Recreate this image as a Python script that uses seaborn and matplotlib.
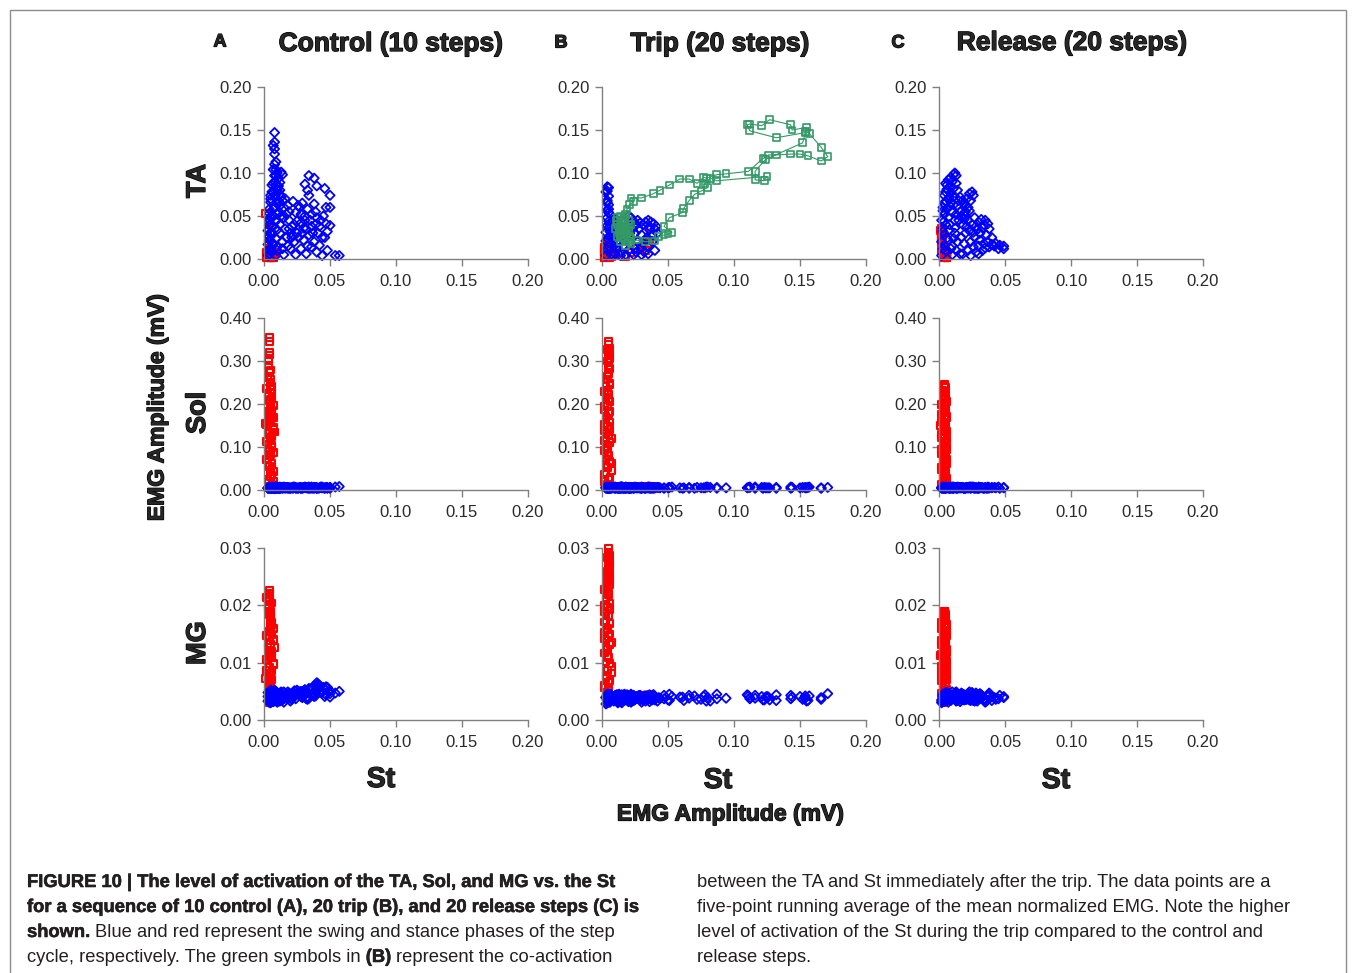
import matplotlib
matplotlib.use("Agg")
import matplotlib.pyplot as plt
import matplotlib.patches as mpatches
import matplotlib.patheffects as pe
from matplotlib import font_manager
import seaborn as sns

# ---------------------------------------------------------------------------
# Data.  x = St amplitude, shared by the TA/Sol/MG rows
# ---------------------------------------------------------------------------

# Control (A) - swing phase
st_swing_A = [
    0.003, 0.003, 0.004, 0.003, 0.004, 0.004, 0.005, 0.005, 0.006, 0.004,
    0.005, 0.005, 0.006, 0.006, 0.008, 0.008, 0.007, 0.008, 0.008, 0.009,
    0.007, 0.009, 0.008, 0.010, 0.011, 0.012, 0.013, 0.014, 0.012, 0.009,
    0.010, 0.008, 0.011, 0.013, 0.016, 0.018, 0.015, 0.019, 0.022, 0.024,
    0.021, 0.025, 0.027, 0.029, 0.031, 0.028, 0.033, 0.032, 0.035, 0.036,
    0.038, 0.039, 0.041, 0.043, 0.045, 0.047, 0.050, 0.047, 0.050, 0.034,
    0.038, 0.031, 0.033, 0.034, 0.040, 0.046, 0.050, 0.026, 0.010, 0.015,
    0.020, 0.024, 0.028, 0.032, 0.036, 0.040, 0.044, 0.048, 0.054, 0.057,
    0.012, 0.014, 0.017, 0.020, 0.023, 0.030, 0.034, 0.038, 0.042, 0.046,
    0.006, 0.007, 0.006, 0.007, 0.006, 0.007, 0.006, 0.007, 0.009, 0.010,
    0.009, 0.010, 0.009, 0.010, 0.009, 0.010, 0.011, 0.012, 0.013, 0.012,
    0.014, 0.016, 0.018, 0.019, 0.022, 0.025, 0.028, 0.030, 0.036, 0.040,
    0.004, 0.005, 0.004, 0.005, 0.004, 0.005, 0.004, 0.005, 0.006, 0.007,
    0.008, 0.009, 0.008, 0.011, 0.012, 0.014, 0.015, 0.017, 0.019, 0.021,
    0.023, 0.026, 0.029, 0.031, 0.033, 0.037, 0.039, 0.042, 0.044, 0.048,
]
ta_swing_A = [
    0.004, 0.017, 0.026, 0.033, 0.046, 0.053, 0.066, 0.074, 0.086, 0.010,
    0.021, 0.041, 0.051, 0.031, 0.147, 0.136, 0.132, 0.128, 0.122, 0.113,
    0.104, 0.097, 0.090, 0.100, 0.094, 0.089, 0.101, 0.098, 0.080, 0.075,
    0.065, 0.060, 0.055, 0.072, 0.070, 0.062, 0.048, 0.045, 0.067, 0.054,
    0.038, 0.030, 0.060, 0.065, 0.050, 0.042, 0.058, 0.035, 0.045, 0.052,
    0.064, 0.040, 0.030, 0.045, 0.050, 0.041, 0.039, 0.060, 0.060, 0.097,
    0.094, 0.087, 0.080, 0.074, 0.085, 0.082, 0.074, 0.025, 0.010, 0.005,
    0.012, 0.005, 0.012, 0.006, 0.014, 0.008, 0.004, 0.010, 0.004, 0.004,
    0.030, 0.020, 0.025, 0.030, 0.020, 0.022, 0.028, 0.020, 0.016, 0.025,
    0.008, 0.018, 0.028, 0.038, 0.048, 0.058, 0.068, 0.078, 0.086, 0.080,
    0.004, 0.014, 0.024, 0.034, 0.044, 0.052, 0.068, 0.062, 0.050, 0.040,
    0.012, 0.035, 0.015, 0.055, 0.028, 0.044, 0.052, 0.036, 0.038, 0.048,
    0.006, 0.013, 0.022, 0.031, 0.039, 0.048, 0.058, 0.070, 0.078, 0.088,
    0.097, 0.104, 0.110, 0.085, 0.075, 0.068, 0.060, 0.052, 0.035, 0.025,
    0.040, 0.062, 0.030, 0.045, 0.015, 0.030, 0.055, 0.038, 0.025, 0.032,
]
sol_swing_A = [
    0.004, 0.005, 0.006, 0.004, 0.005, 0.007, 0.005, 0.004, 0.006, 0.005,
    0.006, 0.004, 0.005, 0.007, 0.005, 0.004, 0.006, 0.005, 0.004, 0.006,
    0.005, 0.007, 0.004, 0.005, 0.006, 0.004, 0.005, 0.006, 0.007, 0.005,
    0.004, 0.006, 0.005, 0.005, 0.004, 0.006, 0.007, 0.005, 0.004, 0.006,
    0.005, 0.004, 0.006, 0.005, 0.007, 0.004, 0.005, 0.006, 0.004, 0.005,
    0.006, 0.005, 0.004, 0.007, 0.005, 0.006, 0.004, 0.005, 0.006, 0.005,
    0.004, 0.006, 0.005, 0.007, 0.004, 0.005, 0.006, 0.004, 0.005, 0.006,
    0.005, 0.004, 0.006, 0.005, 0.007, 0.004, 0.005, 0.006, 0.007, 0.008,
    0.004, 0.006, 0.005, 0.004, 0.006, 0.005, 0.004, 0.006, 0.005, 0.004,
    0.005, 0.004, 0.006, 0.005, 0.007, 0.004, 0.005, 0.006, 0.004, 0.005,
    0.006, 0.005, 0.004, 0.007, 0.005, 0.006, 0.004, 0.005, 0.006, 0.004,
    0.005, 0.006, 0.004, 0.005, 0.007, 0.005, 0.004, 0.006, 0.005, 0.006,
    0.005, 0.006, 0.004, 0.005, 0.007, 0.004, 0.006, 0.005, 0.004, 0.006,
    0.005, 0.007, 0.004, 0.005, 0.006, 0.004, 0.005, 0.006, 0.004, 0.005,
    0.007, 0.005, 0.004, 0.006, 0.005, 0.004, 0.006, 0.005, 0.007, 0.004,
]
mg_swing_A = [
    0.0033, 0.0041, 0.0036, 0.0048, 0.0031, 0.0044, 0.0038, 0.0052, 0.0035, 0.0046,
    0.0030, 0.0042, 0.0049, 0.0037, 0.0045, 0.0034, 0.0050, 0.0040, 0.0036, 0.0047,
    0.0032, 0.0043, 0.0051, 0.0038, 0.0044, 0.0035, 0.0049, 0.0041, 0.0033, 0.0046,
    0.0039, 0.0052, 0.0037, 0.0042, 0.0038, 0.0044, 0.0031, 0.0047, 0.0041, 0.0050,
    0.0036, 0.0045, 0.0049, 0.0039, 0.0052, 0.0043, 0.0048, 0.0037, 0.0054, 0.0046,
    0.0060, 0.0042, 0.0063, 0.0049, 0.0057, 0.0044, 0.0051, 0.0058, 0.0046, 0.0055,
    0.0041, 0.0049, 0.0036, 0.0047, 0.0065, 0.0053, 0.0040, 0.0045, 0.0034, 0.0040,
    0.0045, 0.0037, 0.0050, 0.0039, 0.0043, 0.0061, 0.0048, 0.0055, 0.0047, 0.0050,
    0.0042, 0.0036, 0.0040, 0.0033, 0.0046, 0.0051, 0.0038, 0.0044, 0.0056, 0.0041,
    0.0039, 0.0032, 0.0045, 0.0036, 0.0041, 0.0048, 0.0034, 0.0043, 0.0038, 0.0031,
    0.0046, 0.0037, 0.0042, 0.0035, 0.0050, 0.0040, 0.0033, 0.0044, 0.0039, 0.0047,
    0.0036, 0.0042, 0.0049, 0.0038, 0.0045, 0.0052, 0.0041, 0.0047, 0.0055, 0.0058,
    0.0034, 0.0040, 0.0031, 0.0045, 0.0037, 0.0042, 0.0033, 0.0048, 0.0039, 0.0044,
    0.0036, 0.0041, 0.0046, 0.0038, 0.0043, 0.0035, 0.0049, 0.0040, 0.0045, 0.0038,
    0.0051, 0.0047, 0.0042, 0.0053, 0.0039, 0.0056, 0.0048, 0.0060, 0.0052, 0.0057,
]

# Control (A) - stance phase
st_stance_A = [
    0.004, 0.004, 0.004, 0.004, 0.0035, 0.0035, 0.005, 0.004, 0.005, 0.0045,
    0.006, 0.005, 0.003, 0.006, 0.004, 0.007, 0.005, 0.003, 0.006, 0.004,
    0.005, 0.003, 0.007, 0.004, 0.006, 0.005, 0.003, 0.006, 0.004, 0.005,
    0.001, 0.008, 0.003, 0.006, 0.004, 0.007, 0.005, 0.003, 0.006, 0.004,
    0.002, 0.003, 0.005, 0.006, 0.007, 0.002, 0.003, 0.005, 0.006, 0.007,
    0.002, 0.003, 0.005, 0.006, 0.007, 0.002, 0.003, 0.005, 0.006, 0.007,
    0.003, 0.005, 0.006, 0.004, 0.005,
]
ta_stance_A = [
    0.004, 0.006, 0.003, 0.008, 0.005, 0.002, 0.007, 0.004, 0.009, 0.003,
    0.006, 0.002, 0.012, 0.005, 0.003, 0.008, 0.004, 0.018, 0.006, 0.002,
    0.005, 0.025, 0.004, 0.007, 0.003, 0.006, 0.034, 0.002, 0.005, 0.004,
    0.053, 0.006, 0.043, 0.003, 0.008, 0.005, 0.002, 0.010, 0.004, 0.006,
    0.002, 0.004, 0.003, 0.006, 0.002, 0.005, 0.003, 0.004, 0.007, 0.002,
    0.006, 0.003, 0.005, 0.002, 0.004, 0.008, 0.003, 0.005, 0.002, 0.006,
    0.004, 0.003, 0.005, 0.002, 0.004,
]
sol_stance_A = [
    0.355, 0.346, 0.321, 0.314, 0.301, 0.289, 0.279, 0.276, 0.257, 0.251,
    0.241, 0.233, 0.224, 0.216, 0.207, 0.197, 0.189, 0.182, 0.171, 0.166,
    0.157, 0.149, 0.141, 0.131, 0.124, 0.117, 0.106, 0.098, 0.091, 0.083,
    0.155, 0.135, 0.073, 0.061, 0.054, 0.043, 0.031, 0.024, 0.013, 0.007,
    0.236, 0.218, 0.203, 0.186, 0.169, 0.153, 0.137, 0.121, 0.104, 0.088,
    0.071, 0.057, 0.046, 0.035, 0.020, 0.112, 0.095, 0.162, 0.228, 0.145,
    0.262, 0.210, 0.128, 0.080, 0.178,
]
mg_stance_A = [
    0.0226, 0.0220, 0.0212, 0.0207, 0.0201, 0.0194, 0.0189, 0.0183, 0.0178, 0.0171,
    0.0166, 0.0162, 0.0154, 0.0149, 0.0143, 0.0138, 0.0131, 0.0127, 0.0119, 0.0114,
    0.0108, 0.0103, 0.0097, 0.0092, 0.0087, 0.0081, 0.0076, 0.0071, 0.0066, 0.0061,
    0.0072, 0.0126, 0.0057, 0.0052, 0.0047, 0.0043, 0.0039, 0.0035, 0.0032, 0.0030,
    0.0213, 0.0198, 0.0186, 0.0170, 0.0159, 0.0147, 0.0134, 0.0122, 0.0110, 0.0098,
    0.0086, 0.0074, 0.0062, 0.0050, 0.0040, 0.0106, 0.0091, 0.0156, 0.0204, 0.0140,
    0.0218, 0.0180, 0.0118, 0.0079, 0.0164,
]

# Trip (B) - swing phase
st_swing_B = [
    0.004, 0.004, 0.005, 0.004, 0.005, 0.004, 0.005, 0.004, 0.005, 0.004,
    0.005, 0.003, 0.004, 0.003, 0.005, 0.004, 0.003, 0.006, 0.006, 0.007,
    0.008, 0.009, 0.010, 0.011, 0.012, 0.010, 0.014, 0.016, 0.018, 0.020,
    0.022, 0.020, 0.024, 0.026, 0.025, 0.028, 0.030, 0.027, 0.029, 0.032,
    0.031, 0.033, 0.035, 0.037, 0.039, 0.041, 0.036, 0.034, 0.038, 0.035,
    0.024, 0.022, 0.018, 0.015, 0.013, 0.016, 0.008, 0.012, 0.030, 0.040,
    0.003, 0.005, 0.004, 0.006, 0.005, 0.006, 0.007, 0.006, 0.007, 0.009,
    0.010, 0.011, 0.012, 0.014, 0.017, 0.019, 0.021, 0.023, 0.025, 0.027,
    0.029, 0.031, 0.033, 0.036, 0.038, 0.040, 0.042, 0.026, 0.014, 0.035,
]
ta_swing_B = [
    0.084, 0.079, 0.073, 0.068, 0.063, 0.057, 0.054, 0.048, 0.044, 0.039,
    0.036, 0.031, 0.024, 0.021, 0.014, 0.011, 0.004, 0.040, 0.025, 0.012,
    0.045, 0.035, 0.028, 0.020, 0.012, 0.006, 0.008, 0.015, 0.005, 0.010,
    0.048, 0.050, 0.044, 0.040, 0.030, 0.035, 0.028, 0.020, 0.012, 0.008,
    0.040, 0.043, 0.045, 0.043, 0.041, 0.038, 0.034, 0.025, 0.020, 0.015,
    0.005, 0.018, 0.025, 0.030, 0.040, 0.044, 0.020, 0.030, 0.005, 0.010,
    0.078, 0.083, 0.066, 0.052, 0.058, 0.032, 0.028, 0.018, 0.005, 0.015,
    0.040, 0.046, 0.020, 0.025, 0.035, 0.040, 0.030, 0.035, 0.012, 0.045,
    0.042, 0.018, 0.022, 0.038, 0.028, 0.035, 0.030, 0.008, 0.004, 0.006,
]
sol_swing_B = [
    0.005, 0.004, 0.006, 0.005, 0.004, 0.006, 0.005, 0.007, 0.004, 0.005,
    0.006, 0.004, 0.005, 0.007, 0.005, 0.004, 0.006, 0.005, 0.004, 0.006,
    0.005, 0.007, 0.004, 0.006, 0.005, 0.004, 0.006, 0.005, 0.007, 0.004,
    0.005, 0.006, 0.004, 0.005, 0.007, 0.005, 0.004, 0.006, 0.005, 0.004,
    0.006, 0.005, 0.007, 0.004, 0.005, 0.006, 0.004, 0.005, 0.006, 0.005,
    0.004, 0.006, 0.005, 0.007, 0.004, 0.005, 0.006, 0.005, 0.004, 0.006,
    0.005, 0.004, 0.006, 0.005, 0.007, 0.004, 0.005, 0.006, 0.004, 0.005,
    0.006, 0.005, 0.004, 0.007, 0.005, 0.006, 0.004, 0.005, 0.006, 0.005,
    0.004, 0.006, 0.005, 0.007, 0.004, 0.005, 0.006, 0.005, 0.004, 0.006,
]
mg_swing_B = [
    0.0036, 0.0041, 0.0032, 0.0044, 0.0038, 0.0030, 0.0042, 0.0035, 0.0039, 0.0045,
    0.0033, 0.0040, 0.0037, 0.0028, 0.0043, 0.0034, 0.0039, 0.0031, 0.0046, 0.0036,
    0.0041, 0.0033, 0.0038, 0.0044, 0.0030, 0.0037, 0.0042, 0.0035, 0.0040, 0.0032,
    0.0045, 0.0038, 0.0034, 0.0041, 0.0036, 0.0043, 0.0031, 0.0039, 0.0035, 0.0042,
    0.0037, 0.0033, 0.0040, 0.0036, 0.0044, 0.0038, 0.0032, 0.0041, 0.0035, 0.0039,
    0.0043, 0.0034, 0.0037, 0.0030, 0.0042, 0.0036, 0.0040, 0.0033, 0.0038, 0.0035,
    0.0039, 0.0034, 0.0042, 0.0036, 0.0031, 0.0044, 0.0038, 0.0033, 0.0041, 0.0037,
    0.0043, 0.0035, 0.0040, 0.0032, 0.0045, 0.0038, 0.0034, 0.0042, 0.0036, 0.0040,
    0.0043, 0.0035, 0.0039, 0.0044, 0.0037, 0.0041, 0.0033, 0.0038, 0.0042, 0.0036,
]

# Trip (B) - TA/St co-activation right after the trip (green, in time order)
st_trip_B = [
    0.012, 0.014, 0.016, 0.012, 0.010, 0.013, 0.015, 0.018, 0.020, 0.022,
    0.019, 0.016, 0.014, 0.017, 0.020, 0.018,
    0.019, 0.021, 0.024, 0.022, 0.030, 0.039, 0.044, 0.051, 0.059, 0.066,
    0.072, 0.077, 0.079, 0.087, 0.094, 0.111, 0.122, 0.126, 0.132, 0.143,
    0.150, 0.156, 0.166, 0.171, 0.166, 0.157, 0.154, 0.155, 0.144, 0.143,
    0.127, 0.121, 0.112, 0.110, 0.112, 0.132, 0.154, 0.152, 0.124, 0.116,
    0.116, 0.123, 0.125, 0.087, 0.082, 0.078, 0.080, 0.075, 0.070, 0.066,
    0.062, 0.061, 0.051, 0.047, 0.053, 0.050, 0.047, 0.043, 0.040, 0.033,
    0.026, 0.022, 0.018, 0.014, 0.012, 0.015, 0.018, 0.020, 0.016,
    0.013, 0.017, 0.021, 0.019, 0.015, 0.011, 0.014, 0.020, 0.017, 0.022,
]
ta_trip_B = [
    0.048, 0.050, 0.046, 0.040, 0.035, 0.030, 0.025, 0.022, 0.020, 0.024,
    0.030, 0.034, 0.038, 0.042, 0.045, 0.052,
    0.058, 0.063, 0.067, 0.071, 0.071, 0.076, 0.080, 0.086, 0.093, 0.093,
    0.088, 0.095, 0.094, 0.098, 0.099, 0.102, 0.117, 0.121, 0.121, 0.122,
    0.122, 0.120, 0.114, 0.119, 0.130, 0.146, 0.148, 0.153, 0.150, 0.156,
    0.162, 0.155, 0.157, 0.156, 0.149, 0.141, 0.147, 0.135, 0.116, 0.102,
    0.092, 0.091, 0.096, 0.091, 0.094, 0.088, 0.083, 0.079, 0.075, 0.068,
    0.059, 0.054, 0.048, 0.038, 0.031, 0.029, 0.028, 0.026, 0.021, 0.020,
    0.022, 0.018, 0.016, 0.020, 0.026, 0.032, 0.036, 0.040, 0.041,
    0.034, 0.028, 0.026, 0.036, 0.043, 0.045, 0.028, 0.033, 0.047, 0.040,
]
sol_trip_B = [
    0.005, 0.006, 0.004, 0.005, 0.007, 0.005, 0.004, 0.006, 0.005, 0.004,
    0.006, 0.005, 0.007, 0.004, 0.005, 0.006,
    0.005, 0.004, 0.006, 0.005, 0.007, 0.004, 0.005, 0.006, 0.005, 0.004,
    0.006, 0.005, 0.007, 0.006, 0.005, 0.006, 0.004, 0.005, 0.006, 0.007,
    0.005, 0.006, 0.004, 0.006, 0.005, 0.007, 0.006, 0.005, 0.006, 0.004,
    0.005, 0.006, 0.007, 0.005, 0.006, 0.004, 0.005, 0.006, 0.005, 0.007,
    0.004, 0.006, 0.005, 0.004, 0.006, 0.005, 0.007, 0.005, 0.004, 0.006,
    0.005, 0.004, 0.006, 0.005, 0.007, 0.005, 0.004, 0.006, 0.005, 0.004,
    0.006, 0.005, 0.004, 0.006, 0.005, 0.007, 0.004, 0.005, 0.006,
    0.005, 0.006, 0.004, 0.005, 0.007, 0.005, 0.004, 0.006, 0.005, 0.006,
]
mg_trip_B = [
    0.0040, 0.0036, 0.0043, 0.0033, 0.0039, 0.0045, 0.0035, 0.0041, 0.0037, 0.0031,
    0.0044, 0.0038, 0.0034, 0.0042, 0.0036, 0.0040,
    0.0039, 0.0043, 0.0035, 0.0041, 0.0037, 0.0044, 0.0038, 0.0034, 0.0040, 0.0043,
    0.0036, 0.0041, 0.0033, 0.0045, 0.0038, 0.0042, 0.0035, 0.0040, 0.0044, 0.0037,
    0.0041, 0.0034, 0.0039, 0.0046, 0.0036, 0.0042, 0.0038, 0.0033, 0.0040, 0.0043,
    0.0035, 0.0041, 0.0037, 0.0044, 0.0039, 0.0034, 0.0042, 0.0036, 0.0040, 0.0038,
    0.0043, 0.0035, 0.0041, 0.0037, 0.0033, 0.0044, 0.0039, 0.0036, 0.0042, 0.0038,
    0.0034, 0.0040, 0.0045, 0.0037, 0.0041, 0.0035, 0.0043, 0.0039, 0.0036, 0.0042,
    0.0038, 0.0033, 0.0041, 0.0036, 0.0044, 0.0039, 0.0035, 0.0040, 0.0037,
    0.0038, 0.0042, 0.0035, 0.0040, 0.0044, 0.0037, 0.0041, 0.0034, 0.0039, 0.0043,
]

# Trip (B) - stance phase
st_stance_B = [
    0.005, 0.005, 0.006, 0.005, 0.006, 0.005, 0.006, 0.005, 0.004, 0.006,
    0.003, 0.004, 0.005, 0.003, 0.006, 0.004, 0.002, 0.005, 0.003, 0.006,
    0.004, 0.002, 0.005, 0.003, 0.006, 0.004, 0.002, 0.005, 0.003, 0.007,
    0.004, 0.003, 0.006, 0.002, 0.005,
    0.010, 0.014, 0.018, 0.022, 0.026, 0.030, 0.033, 0.035, 0.037, 0.036,
    0.004, 0.006, 0.005, 0.004, 0.006, 0.002, 0.003, 0.002, 0.003, 0.002,
    0.003, 0.002, 0.003, 0.004, 0.006, 0.007, 0.005, 0.004, 0.006, 0.007,
    0.003, 0.002, 0.005, 0.006, 0.004,
]
ta_stance_B = [
    0.003, 0.006, 0.010, 0.004, 0.008, 0.012, 0.005, 0.002, 0.009, 0.015,
    0.004, 0.007, 0.011, 0.003, 0.006, 0.018, 0.002, 0.008, 0.005, 0.013,
    0.004, 0.010, 0.006, 0.003, 0.009, 0.016, 0.002, 0.007, 0.020, 0.005,
    0.003, 0.012, 0.008, 0.004, 0.006,
    0.004, 0.006, 0.003, 0.008, 0.012, 0.015, 0.010, 0.018, 0.036, 0.022,
    0.005, 0.003, 0.008, 0.004, 0.006, 0.012, 0.004, 0.009, 0.003, 0.014,
    0.006, 0.010, 0.004, 0.007, 0.003, 0.005, 0.011, 0.004, 0.006, 0.003,
    0.017, 0.008, 0.005, 0.002, 0.006,
]
sol_stance_B = [
    0.345, 0.338, 0.330, 0.318, 0.305, 0.296, 0.282, 0.270, 0.258, 0.249,
    0.240, 0.232, 0.223, 0.214, 0.205, 0.196, 0.186, 0.178, 0.167, 0.158,
    0.148, 0.139, 0.128, 0.121, 0.110, 0.101, 0.092, 0.081, 0.072, 0.063,
    0.052, 0.041, 0.030, 0.019, 0.008,
    0.007, 0.008, 0.006, 0.009, 0.007, 0.008, 0.006, 0.009, 0.008, 0.007,
    0.326, 0.312, 0.290, 0.265, 0.244, 0.230, 0.212, 0.194, 0.172, 0.153,
    0.135, 0.116, 0.097, 0.086, 0.067, 0.046, 0.025, 0.014, 0.182, 0.120,
    0.060, 0.036, 0.210, 0.140, 0.300,
]
mg_stance_B = [
    0.0300, 0.0293, 0.0287, 0.0279, 0.0270, 0.0262, 0.0255, 0.0247, 0.0240, 0.0236,
    0.0231, 0.0224, 0.0218, 0.0210, 0.0203, 0.0197, 0.0189, 0.0182, 0.0174, 0.0168,
    0.0160, 0.0153, 0.0146, 0.0138, 0.0131, 0.0123, 0.0117, 0.0109, 0.0101, 0.0094,
    0.0086, 0.0078, 0.0069, 0.0060, 0.0051,
    0.0042, 0.0038, 0.0044, 0.0036, 0.0041, 0.0039, 0.0043, 0.0037, 0.0045, 0.0040,
    0.0283, 0.0275, 0.0266, 0.0251, 0.0243, 0.0228, 0.0214, 0.0200, 0.0186, 0.0171,
    0.0157, 0.0142, 0.0127, 0.0113, 0.0098, 0.0082, 0.0065, 0.0047, 0.0193, 0.0135,
    0.0073, 0.0056, 0.0221, 0.0150, 0.0259,
]

# Release (C) - swing phase
st_swing_C = [
    0.002, 0.003, 0.002, 0.004, 0.003, 0.002, 0.004, 0.003, 0.005, 0.004,
    0.006, 0.005, 0.006, 0.005, 0.006, 0.005,
    0.007, 0.009, 0.011, 0.012, 0.013, 0.010, 0.008, 0.009, 0.007, 0.008,
    0.010, 0.011, 0.013, 0.014,
    0.016, 0.018, 0.019, 0.021, 0.023, 0.025, 0.026, 0.024, 0.022, 0.020,
    0.030, 0.032, 0.035, 0.037, 0.038, 0.034, 0.028, 0.031, 0.036,
    0.040, 0.043, 0.046, 0.049, 0.049, 0.045, 0.040, 0.037,
    0.015, 0.018, 0.020, 0.022, 0.025, 0.020, 0.017, 0.014, 0.010, 0.012,
    0.024, 0.027, 0.030, 0.033, 0.035, 0.028, 0.022, 0.016, 0.010, 0.008,
    0.012, 0.016, 0.011,
    0.004, 0.003, 0.004, 0.003, 0.004, 0.005, 0.006, 0.007, 0.008, 0.009,
    0.007, 0.008, 0.007, 0.009, 0.011, 0.012, 0.013, 0.014, 0.015, 0.017,
    0.019, 0.021, 0.023, 0.026, 0.029, 0.033, 0.031, 0.034, 0.038, 0.042,
    0.026, 0.019, 0.013, 0.018, 0.024, 0.030, 0.020, 0.023, 0.027, 0.011,
]
ta_swing_C = [
    0.004, 0.012, 0.020, 0.028, 0.036, 0.045, 0.052, 0.060, 0.067, 0.074,
    0.081, 0.088, 0.058, 0.040, 0.024, 0.010,
    0.092, 0.095, 0.098, 0.100, 0.097, 0.090, 0.084, 0.077, 0.070, 0.062,
    0.055, 0.082, 0.088, 0.080,
    0.072, 0.068, 0.064, 0.070, 0.076, 0.078, 0.074, 0.068, 0.060, 0.055,
    0.043, 0.046, 0.045, 0.041, 0.035, 0.040, 0.038, 0.030, 0.028,
    0.025, 0.018, 0.016, 0.015, 0.012, 0.012, 0.017, 0.020,
    0.045, 0.040, 0.050, 0.045, 0.040, 0.030, 0.025, 0.020, 0.015, 0.030,
    0.020, 0.025, 0.015, 0.010, 0.013, 0.008, 0.010, 0.006, 0.005, 0.040,
    0.045, 0.055, 0.063,
    0.016, 0.032, 0.044, 0.056, 0.064, 0.078, 0.086, 0.080, 0.072, 0.066,
    0.048, 0.034, 0.022, 0.012, 0.024, 0.036, 0.052, 0.062, 0.068, 0.050,
    0.046, 0.038, 0.033, 0.031, 0.034, 0.036, 0.022, 0.018, 0.014, 0.015,
    0.014, 0.018, 0.010, 0.006, 0.004, 0.006, 0.062, 0.056, 0.048, 0.072,
]
sol_swing_C = [
    0.005, 0.004, 0.006, 0.005, 0.007, 0.004, 0.005, 0.006, 0.004, 0.005,
    0.006, 0.007, 0.005, 0.004, 0.006, 0.005,
    0.006, 0.005, 0.004, 0.006, 0.005, 0.007, 0.004, 0.005, 0.006, 0.005,
    0.004, 0.006, 0.005, 0.007,
    0.005, 0.006, 0.004, 0.005, 0.007, 0.006, 0.005, 0.004, 0.006, 0.005,
    0.004, 0.006, 0.005, 0.007, 0.005, 0.004, 0.006, 0.005, 0.004,
    0.006, 0.005, 0.004, 0.006, 0.005, 0.007, 0.005, 0.004,
    0.005, 0.006, 0.004, 0.005, 0.007, 0.005, 0.006, 0.004, 0.005, 0.006,
    0.005, 0.004, 0.007, 0.005, 0.006, 0.004, 0.005, 0.006, 0.005, 0.004,
    0.006, 0.005, 0.007,
    0.005, 0.004, 0.006, 0.005, 0.004, 0.007, 0.005, 0.006, 0.004, 0.005,
    0.006, 0.004, 0.005, 0.007, 0.005, 0.006, 0.004, 0.005, 0.006, 0.005,
    0.004, 0.006, 0.005, 0.007, 0.004, 0.005, 0.006, 0.004, 0.005, 0.006,
    0.005, 0.004, 0.006, 0.005, 0.007, 0.004, 0.005, 0.006, 0.005, 0.004,
]
mg_swing_C = [
    0.0035, 0.0041, 0.0032, 0.0044, 0.0038, 0.0030, 0.0046, 0.0036, 0.0040, 0.0033,
    0.0043, 0.0037, 0.0048, 0.0034, 0.0042, 0.0039,
    0.0044, 0.0036, 0.0041, 0.0047, 0.0033, 0.0039, 0.0045, 0.0037, 0.0042, 0.0035,
    0.0049, 0.0040, 0.0034, 0.0043,
    0.0038, 0.0045, 0.0041, 0.0036, 0.0049, 0.0043, 0.0039, 0.0034, 0.0046, 0.0040,
    0.0037, 0.0044, 0.0031, 0.0041, 0.0047, 0.0035, 0.0042, 0.0038, 0.0033,
    0.0040, 0.0036, 0.0043, 0.0039, 0.0041, 0.0037, 0.0034, 0.0042,
    0.0039, 0.0045, 0.0036, 0.0042, 0.0048, 0.0037, 0.0043, 0.0034, 0.0040, 0.0046,
    0.0038, 0.0033, 0.0044, 0.0041, 0.0035, 0.0047, 0.0039, 0.0036, 0.0043, 0.0040,
    0.0045, 0.0032, 0.0038,
    0.0036, 0.0042, 0.0033, 0.0045, 0.0039, 0.0048, 0.0035, 0.0041, 0.0037, 0.0044,
    0.0031, 0.0046, 0.0040, 0.0034, 0.0043, 0.0038, 0.0049, 0.0036, 0.0042, 0.0047,
    0.0035, 0.0041, 0.0038, 0.0045, 0.0033, 0.0040, 0.0046, 0.0037, 0.0043, 0.0039,
    0.0034, 0.0044, 0.0048, 0.0036, 0.0041, 0.0038, 0.0042, 0.0035, 0.0045, 0.0039,
]

# Release (C) - stance phase
st_stance_C = [
    0.004, 0.005, 0.004, 0.005, 0.003, 0.006, 0.004, 0.005, 0.003, 0.006,
    0.004, 0.002, 0.005, 0.003, 0.006, 0.004, 0.002, 0.005, 0.003, 0.006,
    0.004, 0.002, 0.005, 0.003, 0.006, 0.004, 0.002, 0.005, 0.003, 0.006,
    0.001, 0.004, 0.002, 0.005, 0.003, 0.006, 0.002, 0.004, 0.003, 0.005,
    0.003, 0.005, 0.002, 0.004, 0.006, 0.003, 0.005, 0.002, 0.004, 0.006,
    0.003, 0.005, 0.002, 0.004, 0.006, 0.003, 0.005, 0.002, 0.004, 0.006,
    0.003, 0.005, 0.004, 0.002, 0.006,
]
ta_stance_C = [
    0.003, 0.005, 0.002, 0.007, 0.004, 0.006, 0.003, 0.008, 0.005, 0.002,
    0.004, 0.010, 0.006, 0.015, 0.003, 0.005, 0.020, 0.004, 0.025, 0.006,
    0.003, 0.030, 0.005, 0.012, 0.004, 0.002, 0.035, 0.006, 0.008, 0.003,
    0.033, 0.004, 0.018, 0.005, 0.010, 0.003, 0.026, 0.006, 0.014, 0.002,
    0.004, 0.002, 0.022, 0.005, 0.003, 0.011, 0.006, 0.028, 0.004, 0.002,
    0.016, 0.005, 0.031, 0.003, 0.006, 0.008, 0.004, 0.019, 0.005, 0.003,
    0.013, 0.006, 0.004, 0.024, 0.002,
]
sol_stance_C = [
    0.245, 0.238, 0.226, 0.219, 0.211, 0.205, 0.196, 0.188, 0.181, 0.172,
    0.166, 0.158, 0.150, 0.143, 0.136, 0.128, 0.121, 0.113, 0.106, 0.098,
    0.091, 0.084, 0.077, 0.069, 0.062, 0.055, 0.048, 0.041, 0.034, 0.027,
    0.150, 0.020, 0.014, 0.009, 0.006, 0.012, 0.095, 0.060, 0.030, 0.180,
    0.232, 0.214, 0.199, 0.184, 0.169, 0.154, 0.139, 0.124, 0.110, 0.095,
    0.081, 0.066, 0.052, 0.038, 0.024, 0.012, 0.200, 0.175, 0.146, 0.118,
    0.088, 0.058, 0.240, 0.130, 0.072,
]
mg_stance_C = [
    0.0190, 0.0185, 0.0182, 0.0175, 0.0173, 0.0166, 0.0163, 0.0157, 0.0154, 0.0147,
    0.0144, 0.0139, 0.0133, 0.0130, 0.0124, 0.0121, 0.0114, 0.0111, 0.0105, 0.0102,
    0.0096, 0.0093, 0.0086, 0.0083, 0.0079, 0.0072, 0.0069, 0.0063, 0.0060, 0.0054,
    0.0112, 0.0050, 0.0046, 0.0041, 0.0037, 0.0033, 0.0080, 0.0045, 0.0031, 0.0140,
    0.0187, 0.0179, 0.0170, 0.0164, 0.0156, 0.0149, 0.0141, 0.0134, 0.0127, 0.0117,
    0.0108, 0.0099, 0.0090, 0.0081, 0.0071, 0.0062, 0.0174, 0.0160, 0.0136, 0.0122,
    0.0103, 0.0085, 0.0189, 0.0131, 0.0094,
]

col_letters = ["A", "B", "C"]
col_titles = ["Control (10 steps)", "Trip (20 steps)", "Release (20 steps)"]
row_labels = ["TA", "Sol", "MG"]
row_yticks = [[0.0, 0.05, 0.10, 0.15, 0.20],
              [0.0, 0.10, 0.20, 0.30, 0.40],
              [0.0, 0.01, 0.02, 0.03]]
x_ticks = [0.0, 0.05, 0.10, 0.15, 0.20]

caption_left = [
    [("FIGURE 10 | The level of activation of the TA, Sol, and MG vs. the St", "bold")],
    [("for a sequence of 10 control (A), 20 trip (B), and 20 release steps (C) is", "bold")],
    [("shown.", "bold"), (" Blue and red represent the swing and stance phases of the step", "normal")],
    [("cycle, respectively. The green symbols in ", "normal"), ("(B)", "bold"),
     (" represent the co-activation", "normal")],
]
caption_right = [
    [("between the TA and St immediately after the trip. The data points are a", "normal")],
    [("five-point running average of the mean normalized EMG. Note the higher", "normal")],
    [("level of activation of the St during the trip compared to the control and", "normal")],
    [("release steps.", "normal")],
]

# ---------------------------------------------------------------------------
# Style
# ---------------------------------------------------------------------------
sns.set_style("ticks")
plt.rcParams["font.family"] = ["Liberation Sans", "DejaVu Sans"]
plt.rcParams["axes.edgecolor"] = "#808080"
plt.rcParams["axes.linewidth"] = 1.0

BLUE = "#0000FF"
RED = "#FF0000"
GREEN = "#339966"
HEAVY = [pe.withStroke(linewidth=0.9, foreground="black")]

W, H = 1355, 973
fig = plt.figure(figsize=(W / 100, H / 100), dpi=100)
fig.patch.set_facecolor("white")


def fx(px):
    return px / W


def fy(py):
    return 1 - py / H


# figure frame
fig.patches.append(mpatches.Rectangle((fx(10), fy(990)), fx(1346) - fx(10), fy(10) - fy(990),
                                      transform=fig.transFigure, fill=False,
                                      edgecolor="#8c8c8c", linewidth=1.0))

col_x0 = [264, 602, 939]
row_y0 = [87, 318, 548]
AX_W, AX_H = 264, 172

columns = [
    dict(st_sw=st_swing_A, st_stc=st_stance_A,
         rows=[(ta_swing_A, ta_stance_A), (sol_swing_A, sol_stance_A), (mg_swing_A, mg_stance_A)]),
    dict(st_sw=st_swing_B, st_stc=st_stance_B,
         rows=[(ta_swing_B, ta_stance_B), (sol_swing_B, sol_stance_B), (mg_swing_B, mg_stance_B)]),
    dict(st_sw=st_swing_C, st_stc=st_stance_C,
         rows=[(ta_swing_C, ta_stance_C), (sol_swing_C, sol_stance_C), (mg_swing_C, mg_stance_C)]),
]
trip_rows = [ta_trip_B, sol_trip_B, mg_trip_B]

red_kw = dict(marker="s", s=24, facecolor="none", linewidth=1.5, clip_on=False, legend=False)
sq_kw = dict(marker="s", s=24, facecolor="none", linewidth=1.2, clip_on=False, legend=False)
dm_kw = dict(marker="D", s=22, facecolor="none", linewidth=1.3, clip_on=False, legend=False)

for c, col in enumerate(columns):
    for r in range(3):
        ax = fig.add_axes([fx(col_x0[c]), fy(row_y0[r] + AX_H), fx(AX_W), AX_H / H])
        y_sw, y_stc = col["rows"][r]

        sns.scatterplot(x=col["st_stc"], y=y_stc, edgecolor=RED, ax=ax, **red_kw)
        sns.scatterplot(x=col["st_sw"], y=y_sw, edgecolor=BLUE, ax=ax, **dm_kw)

        if c == 1:
            if r == 0:
                sns.lineplot(x=st_trip_B, y=ta_trip_B, sort=False, estimator=None,
                             color=GREEN, linewidth=0.8, ax=ax, legend=False)
                sns.scatterplot(x=st_trip_B, y=ta_trip_B, edgecolor=GREEN, ax=ax, **sq_kw)
            else:
                sns.scatterplot(x=st_trip_B, y=trip_rows[r], edgecolor=BLUE, ax=ax, **dm_kw)

        yt = row_yticks[r]
        ax.set_xlim(0, 0.20)
        ax.set_ylim(0, yt[-1])
        ax.set_xticks(x_ticks)
        ax.set_yticks(yt)
        ax.set_xticklabels([f"{v:.2f}" for v in x_ticks])
        ax.set_yticklabels([f"{v:.2f}" for v in yt])
        ax.set_xlabel("")
        ax.set_ylabel("")
        ax.tick_params(axis="both", direction="out", length=5, width=1,
                       color="#808080", labelcolor="#2a2a2a", labelsize=12)
        ax.tick_params(axis="x", pad=6)
        ax.tick_params(axis="y", pad=4)
        sns.despine(ax=ax)
        ax.patch.set_alpha(0)

# panel letters and column titles
letter_pos = [(220, 42), (561, 43), (898, 43)]
title_pos = [(391, 44), (720, 44), (1072, 43)]
for i in range(3):
    fig.text(fx(letter_pos[i][0]), fy(letter_pos[i][1]), col_letters[i], fontsize=13,
             fontweight="bold", ha="center", va="center", path_effects=HEAVY)
    fig.text(fx(title_pos[i][0]), fy(title_pos[i][1]), col_titles[i], fontsize=19,
             fontweight="bold", ha="center", va="center", path_effects=HEAVY)

# row labels
row_lab_y = [181, 413, 643]
for r in range(3):
    fig.text(fx(198), fy(row_lab_y[r]), row_labels[r], fontsize=19.5, fontweight="bold",
             rotation=90, ha="center", va="center", path_effects=HEAVY)

fig.text(fx(157), fy(408), "EMG Amplitude (mV)", fontsize=16.5, fontweight="bold",
         rotation=90, ha="center", va="center", path_effects=HEAVY)

for xp, yp in [(381, 780), (718, 781), (1056, 781)]:
    fig.text(fx(xp), fy(yp), "St", fontsize=20.5, fontweight="bold", ha="center",
             va="center", path_effects=HEAVY)
fig.text(fx(730), fy(814), "EMG Amplitude (mV)", fontsize=16.5, fontweight="bold",
         ha="center", va="center", path_effects=HEAVY)

# ---------------------------------------------------------------------------
# Caption (two columns, mixed bold / regular)
# ---------------------------------------------------------------------------
try:
    font_manager.findfont("Liberation Sans Narrow", fallback_to_default=False)
    cap_family = ["Liberation Sans Narrow", "Liberation Sans", "DejaVu Sans"]
    cap_size = 14.0
except Exception:
    cap_family = ["Liberation Sans", "DejaVu Sans"]
    cap_size = 12.5

renderer = fig.canvas.get_renderer()


def text_width(s, weight, size):
    t = fig.text(0, 0, s, fontsize=size, fontweight=weight, family=cap_family)
    w = t.get_window_extent(renderer).width
    t.remove()
    return w


# fit the caption size to the width of the first bold line (~590 px)
w0 = text_width(caption_left[0][0][0], "bold", cap_size)
cap_size = cap_size * 590 / w0
CAP_BOLD = [pe.withStroke(linewidth=0.4, foreground="#231f20")]


def draw_caption_line(x_px, y_px, segments):
    x = x_px
    for txt, weight in segments:
        sp = text_width("n n", weight, cap_size) - text_width("nn", weight, cap_size)
        if txt.startswith(" "):
            x += sp
        core = txt.strip()
        t = fig.text(fx(x), fy(y_px), core, fontsize=cap_size, fontweight=weight,
                     family=cap_family, ha="left", va="baseline", color="#231f20",
                     path_effects=CAP_BOLD if weight == "bold" else None)
        x += t.get_window_extent(renderer).width
        if txt.endswith(" "):
            x += sp


baselines = [887, 912, 937, 962]
for i, segs in enumerate(caption_left):
    draw_caption_line(27, baselines[i], segs)
for i, segs in enumerate(caption_right):
    draw_caption_line(697, baselines[i], segs)

fig.savefig("out.png", dpi=100)
